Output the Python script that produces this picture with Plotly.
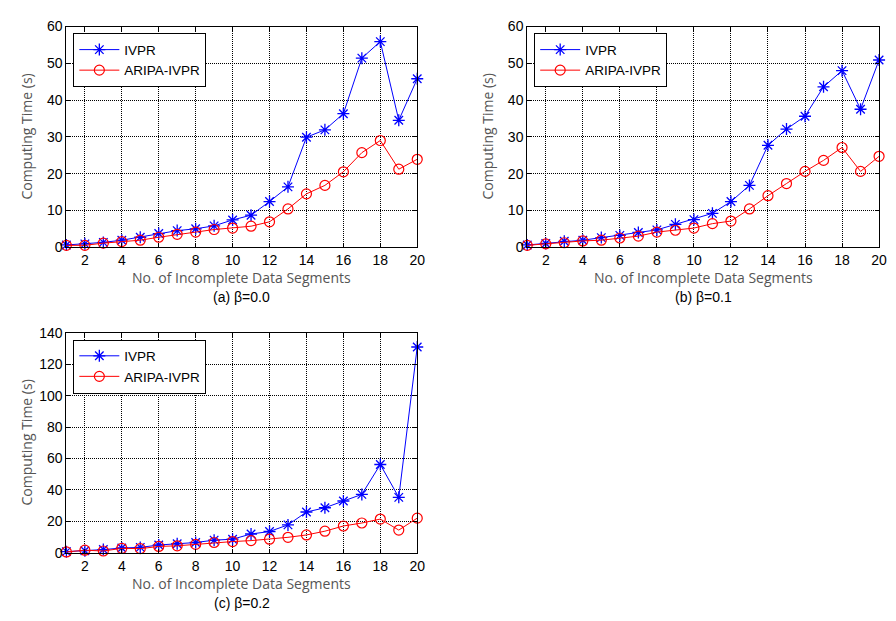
import plotly.graph_objects as go

x_vals = list(range(1, 21))

ivpr_a = [0.6, 0.9, 1.3, 1.9, 2.7, 3.7, 4.5, 5.0, 5.8, 7.4, 8.7, 12.4, 16.4, 29.9, 31.9, 36.3, 51.4, 55.9, 34.5, 45.8]
aripa_a = [0.5, 0.5, 1.1, 1.5, 1.9, 2.7, 3.5, 4.1, 4.8, 5.2, 5.7, 6.9, 10.4, 14.5, 16.8, 20.5, 25.7, 29.0, 21.2, 23.9]

ivpr_b = [0.6, 1.0, 1.6, 1.9, 2.6, 3.2, 4.0, 4.7, 6.2, 7.5, 9.2, 12.4, 16.8, 27.7, 32.1, 35.6, 43.6, 48.0, 37.5, 50.9]
aripa_b = [0.5, 0.9, 1.2, 1.7, 1.9, 2.5, 3.0, 4.1, 4.6, 5.2, 6.4, 7.1, 10.4, 14.0, 17.3, 20.6, 23.6, 27.1, 20.6, 24.7]

ivpr_c = [0.8, 1.4, 2.1, 3.1, 3.5, 5.0, 5.8, 6.6, 8.1, 8.7, 12.0, 13.6, 17.8, 26.0, 28.7, 33.0, 37.2, 56.2, 35.3, 130.9]
aripa_c = [0.6, 1.7, 1.2, 2.9, 2.7, 4.1, 4.5, 5.4, 6.6, 7.2, 7.8, 8.7, 9.9, 11.4, 13.8, 17.1, 19.0, 21.5, 14.5, 22.1]

captions = ["(a) β=0.0", "(b) β=0.1", "(c) β=0.2"]
series_names = ["IVPR", "ARIPA-IVPR"]
x_title = "No. of Incomplete Data Segments"
y_title = "Computing Time (s)"
y_ranges = [[0, 60], [0, 60], [0, 140]]
y_dticks = [10, 10, 20]
x_ticks = list(range(2, 21, 2))

W, H = 896, 621
# plot-area boxes in pixels: (left, right, top, bottom)
boxes = [(67, 421, 19, 245.5), (532, 887, 19, 245.5), (67, 421, 333.3, 559.3)]

fig = go.Figure()
data = [(ivpr_a, aripa_a), (ivpr_b, aripa_b), (ivpr_c, aripa_c)]

tick_font = dict(family="Liberation Sans, Arial", size=14, color="black")
title_font = dict(family="Open Sans, Noto Sans", size=14, color="#555555")

for i, ((iv, ar), box) in enumerate(zip(data, boxes)):
    n = "" if i == 0 else str(i + 1)
    xa, ya = "x" + n, "y" + n
    lg = "legend" + n
    fig.add_trace(go.Scatter(
        x=x_vals, y=iv, name=series_names[0], mode="lines+markers",
        line=dict(color="#0000ff", width=1),
        marker=dict(symbol="asterisk-open", size=10, color="#0000ff", line=dict(color="#0000ff", width=1.3)),
        xaxis=xa, yaxis=ya, legend=lg, cliponaxis=False))
    fig.add_trace(go.Scatter(
        x=x_vals, y=ar, name=series_names[1], mode="lines+markers",
        line=dict(color="#ff0000", width=1),
        marker=dict(symbol="circle-open", size=10, color="#ff0000", line=dict(color="#ff0000", width=1.2)),
        xaxis=xa, yaxis=ya, legend=lg, cliponaxis=False))

    l, r, t, b = box
    xd = [l / W, r / W]
    yd = [1 - b / H, 1 - t / H]
    axis_common = dict(showline=True, linecolor="black", linewidth=1, mirror="allticks",
                       ticks="inside", ticklen=4, tickcolor="black",
                       showgrid=True, gridcolor="black", griddash="1px,1px", gridwidth=1,
                       zeroline=False, tickfont=tick_font)
    fig.layout["xaxis" + n] = dict(domain=xd, range=[1, 20], tickvals=x_ticks,
                                   anchor=ya, **axis_common)
    fig.layout["yaxis" + n] = dict(domain=yd, range=y_ranges[i], dtick=y_dticks[i],
                                   anchor=xa, **axis_common)
    fig.layout[lg] = dict(x=(l + 7) / W, y=1 - (t + 7) / H, xanchor="left", yanchor="top",
                          bgcolor="white", bordercolor="black", borderwidth=1,
                          font=dict(family="Liberation Sans, Arial", size=13.5, color="black"),
                          tracegroupgap=2, itemwidth=40)
    # axis titles
    fig.add_annotation(x=(l + r) / 2 / W, y=1 - (b + 31) / H, xref="paper", yref="paper",
                       text=x_title, showarrow=False, xanchor="center", yanchor="middle",
                       borderpad=0, font=title_font)
    fig.add_annotation(x=(l - 40) / W, y=1 - (t + b) / 2 / H, xref="paper", yref="paper",
                       text=y_title, showarrow=False, textangle=-90, xanchor="center",
                       yanchor="middle", font=title_font)
    fig.add_annotation(x=(l + r) / 2 / W, y=1 - (b + 51) / H, xref="paper", yref="paper",
                       text=captions[i], showarrow=False, xanchor="center", yanchor="middle",
                       font=dict(family="Liberation Sans, Arial", size=14, color="black"))

fig.update_layout(width=W, height=H, margin=dict(l=0, r=0, t=0, b=0),
                  paper_bgcolor="white", plot_bgcolor="white", showlegend=True)

fig.write_html("out.html")
